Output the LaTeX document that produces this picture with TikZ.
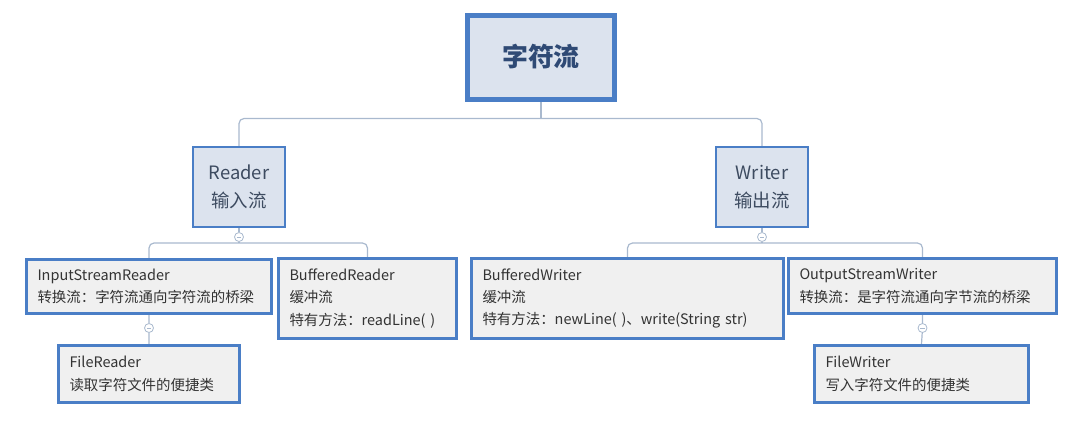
\documentclass[tikz,border=0pt]{standalone}
\usepackage{fontspec}
\setmainfont{Noto Sans CJK SC}
\usetikzlibrary{
  calc,        % 坐标计算
  positioning, % 节点相对定位
  backgrounds  % 连线放到底层
}

\definecolor{boxblue}{HTML}{4A7EC6}
\definecolor{linkgray}{HTML}{A9B9CE}
\definecolor{headfill}{HTML}{DCE3EE}
\definecolor{leaffill}{HTML}{F0F0F0}
\definecolor{roottext}{HTML}{2F4A75}
\definecolor{headtext}{HTML}{3D4B60}
\definecolor{leaftext}{HTML}{333333}

\tikzset{
  rootbox/.style={draw=boxblue, line width=5bp, fill=headfill,
    minimum width=147bp, minimum height=84bp, text=roottext,
    font=\fontsize{26}{30}\selectfont\bfseries},
  headbox/.style={draw=boxblue, line width=2bp, fill=headfill,
    minimum width=92bp, minimum height=80bp, align=center, text=headtext,
    font=\fontsize{18.5}{28}\selectfont},
  leafbox/.style={draw=boxblue, line width=3bp, fill=leaffill,
    anchor=north west, align=left, inner xsep=11bp, text=leaftext,
    font=\fontsize{14.5}{22.5}\selectfont},
  link/.style={draw=linkgray, line width=1.2bp, rounded corners=5bp},
  fold/.style={circle, draw=linkgray, fill=white, line width=0.8bp,
    minimum size=9bp, inner sep=0pt,
    path picture={\draw[linkgray, line width=0.8bp]
      ([xshift=-2.2bp]path picture bounding box.center) --
      ([xshift=2.2bp]path picture bounding box.center);}}
}

\begin{document}
\begin{tikzpicture}[x=1bp, y=-1bp]

  % 画布范围与参考图一致 (1083 x 420)
  \useasboundingbox (0,0) rectangle (1083,420);

  % =========== 根节点 ===========
  \node[rootbox] (root) at (541,57) {字符流};

  % =========== 第二层：Reader / Writer ===========
  \node[headbox] (reader) at (239,187) {Reader\\输入流};
  \node[headbox] (writer) at (762,187) {Writer\\输出流};

  % =========== 第三层：各个具体类 ===========
  \node[leafbox, text width=223bp, minimum height=54bp] (isr) at (25,258)
    {InputStreamReader\\转换流：字符流通向字符流的桥梁};
  \node[leafbox, text width=156bp, minimum height=80bp] (br) at (277,257)
    {BufferedReader\\缓冲流\\特有方法：readLine( )};
  \node[leafbox, text width=290bp, minimum height=80bp] (bw) at (470,257)
    {BufferedWriter\\缓冲流\\特有方法：newLine( )、write(String str)};
  \node[leafbox, text width=246bp, minimum height=55bp] (osw) at (787,257)
    {OutputStreamWriter\\转换流：是字符流通向字节流的桥梁};

  % =========== 第四层 ===========
  \node[leafbox, text width=159bp, minimum height=57bp] (fr) at (57,344)
    {FileReader\\读取字符文件的便捷类};
  \node[leafbox, text width=192bp, minimum height=57bp] (fw) at (813,344)
    {FileWriter\\写入字符文件的便捷类};

  % 折叠标记 (小圆圈里一条横线)，注意 yshift 以向上为正
  \node[fold] (rdfold) at ([yshift=-9bp]reader.south) {};
  \node[fold] (wrfold) at ([yshift=-9bp]writer.south) {};
  \node[fold] (isrfold) at ([yshift=-13bp]isr.south) {};
  \node[fold] (oswfold) at ([yshift=-13bp]osw.south) {};

  % 连线的横杠位置
  \coordinate (rootbar) at ([yshift=-17bp]root.south);
  \coordinate (rdbar) at ([yshift=-15bp]reader.south);
  \coordinate (wrbar) at ([yshift=-15bp]writer.south);

  % =========== 连线 (放在底层) ===========
  \begin{scope}[on background layer]
    \draw[link] (root.south) -- (rootbar);
    \draw[link] (reader.north) |- (rootbar) -| (writer.north);

    \draw[link] (reader.south) -- (rdfold) -- (rdbar);
    \draw[link] (isr.north) |- (rdbar) -| (br.north);

    \draw[link] (writer.south) -- (wrfold) -- (wrbar);
    \draw[link] (bw.north) |- (wrbar) -| (osw.north);

    \draw[link] (isr.south) -- (isrfold) -- (fr.north);
    \draw[link] (osw.south) -- (oswfold) -- (fw.north);
  \end{scope}

\end{tikzpicture}
\end{document}
